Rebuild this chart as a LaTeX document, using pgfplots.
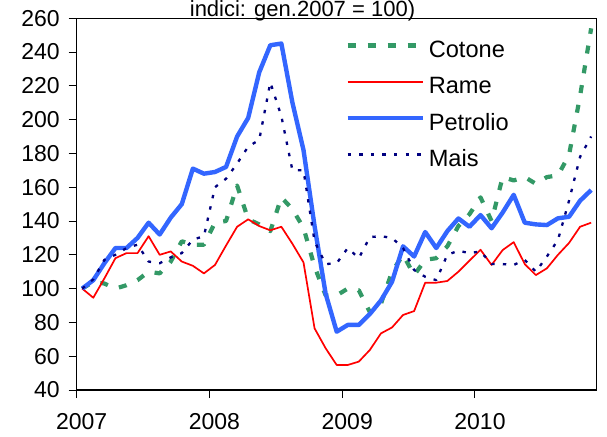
\documentclass[border=0pt]{standalone}
\usepackage{fontspec}
\setmainfont{Liberation Sans}
\usepackage{pgfplots}
\pgfplotsset{compat=1.18}
\definecolor{cotone}{HTML}{339966}
\definecolor{rame}{HTML}{FF0000}
\definecolor{petrolio}{HTML}{3366FF}
\definecolor{mais}{HTML}{000080}

% monthly indices, Jan 2007 = 100; x = month index + 0.5
\pgfplotstableread{
x     cotone rame  petrolio mais
0.5   100    100   100      100
1.5   104    94.6  105      105.5
2.5   103    106   115      117
3.5   100    118   124      120
4.5   102    121   124      124
5.5   105    121   130      126
6.5   110    131   139      116
7.5   109    120   132      115
8.5   116    122   142      118.5
9.5   128    116   150      121
10.5  126    113.5 171      129
11.5  126    109   168      131
12.5  139    114   169      160
13.5  140    125.5 172      165
14.5  161    136.6 190      174
15.5  141    141   201      184
16.5  138    137   228      188
17.5  134    134.5 244      222
18.5  154    136.6 245      202
19.5  147    126.5 210      170
20.5  136    115.5 182      170
21.5  113    76.5  137      128
22.5  96     64.7  97       114.5
23.5  96     54.8  74.5     115
24.5  100    54.8  78.5     124
25.5  99     56.8  78.5     118
26.5  86     63.7  85       130.5
27.5  91     73.5  93       131
28.5  110    77    104      130
29.5  120    84.4  125      124
30.5  108    86.7  119      111
31.5  117    103.5 133.5    107
32.5  118    103.5 124      105
33.5  125    104.5 134      120
34.5  137    110   141.5    122.4
35.5  144    116.5 136.6    121
36.5  154    123   143.5    122
37.5  140    114   135.7    114.5
38.5  166    122.8 145      114.5
39.5  164    127.5 155.5    114
40.5  166    114.5 139      117
41.5  162    108   138      110
42.5  166    112   137.6    119
43.5  167    120   141.6    128.8
44.5  179    127   142.5    152
45.5  214    136.6 152      178
46.5  254    139   158.3    190
}\prices

\begin{document}
\begin{tikzpicture}[font=\fontsize{11.5}{13}\selectfont]
\begin{axis}[
  scale only axis, width=260pt, height=185.9pt,
  xmin=0, xmax=47, ymin=40, ymax=260,
  xtick={0,12,24,36}, xticklabels={2007,2008,2009,2010},
  ytick={40,60,...,260},
  tick pos=left, tick align=outside, major tick length=4pt,
  tick style={black, line width=0.5pt},
  axis line style={black, line width=0.6pt},
  tick label style={font=\fontsize{11.5}{13}\selectfont},
  /pgf/number format/assume math mode=true,
  xticklabel style={xshift=2.5pt, yshift=-4pt},
  yticklabel style={xshift=-1pt},
  every axis plot/.append style={line join=round},
  legend cell align=left,
  legend style={draw=none, fill=none, at={(0.516,0.944)}, anchor=north west,
    inner sep=0pt, row sep=6.2pt, column sep=2pt,
    font=\fontsize{11.8}{13}\selectfont,
    nodes={inner sep=0pt, text height=9pt, text depth=3pt}},
  legend image code/.code={\draw[#1] (0pt,3pt) -- (37.5pt,3pt);},
]
\addplot[cotone, line width=2.1pt, dash pattern=on 4pt off 6pt] table[x=x, y=cotone] {\prices};
\addlegendentry{Cotone}
\addplot[rame, line width=0.85pt] table[x=x, y=rame] {\prices};
\addlegendentry{Rame}
\addplot[petrolio, line width=2.2pt] table[x=x, y=petrolio] {\prices};
\addlegendentry{Petrolio}
\addplot[mais, line width=1.15pt, dash pattern=on 1.7pt off 4.1pt] table[x=x, y=mais] {\prices};
\addlegendentry{Mais}
\end{axis}
\node[anchor=base, font=\fontsize{11}{12}\selectfont] at (112.9pt,186.6pt) {indici: gen.2007 = 100)};
\pgfresetboundingbox
\useasboundingbox (-38.35pt,-23pt) rectangle (265.15pt,195pt);
\end{tikzpicture}
\end{document}
